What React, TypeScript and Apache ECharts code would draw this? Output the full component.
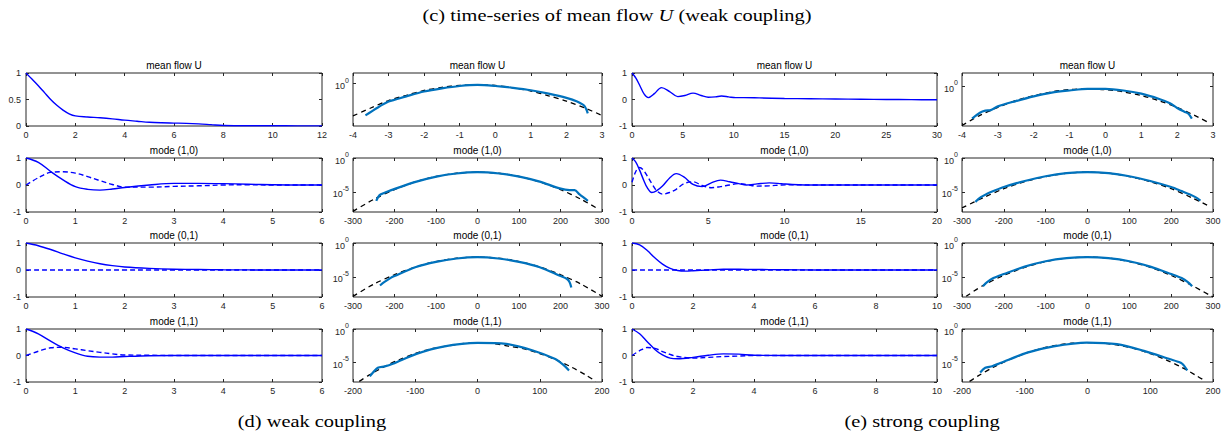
import React, { useEffect, useRef } from "react";
import * as echarts from "echarts";

// ---------- time series (left columns) ----------
const tUweak = [0, 0.25, 0.5, 0.75, 1, 1.25, 1.5, 1.75, 2, 2.5, 3, 3.5, 4, 4.5, 5, 5.5, 6, 6.5, 7, 7.5, 8, 9, 10, 11, 12];
const uWeak = [1, 0.88, 0.76, 0.63, 0.5, 0.39, 0.3, 0.23, 0.19, 0.17, 0.155, 0.135, 0.11, 0.09, 0.07, 0.06, 0.055, 0.05, 0.04, 0.025, 0.01, 0.005, 0.005, 0.003, 0.002];

const tUstrong = [0, 0.4, 0.8, 1.2, 1.6, 2.2, 2.9, 3.7, 4.5, 5.2, 6, 6.8, 7.5, 8.2, 8.8, 9.5, 10.2, 11, 12.5, 15, 17.5, 20, 22.5, 25, 27.5, 30];
const uStrong = [1, 0.8, 0.5, 0.2, 0.07, 0.22, 0.45, 0.3, 0.11, 0.15, 0.24, 0.15, 0.085, 0.1, 0.13, 0.1, 0.07, 0.07, 0.06, 0.04, 0.03, 0.02, 0.01, 0.0, -0.005, -0.01];

const t10weak = [0, 0.25, 0.5, 0.75, 1, 1.25, 1.5, 1.75, 2, 2.5, 3, 3.5, 4, 4.5, 5, 5.5, 6];
const m10weakSolid = [1, 0.84, 0.5, 0.19, -0.06, -0.16, -0.19, -0.15, -0.09, 0.0, 0.06, 0.06, 0.05, 0.03, 0.01, 0.0, 0.0];
const m10weakDash = [0, 0.27, 0.47, 0.49, 0.44, 0.31, 0.16, 0.02, -0.08, -0.08, -0.05, -0.03, 0.0, 0.01, 0.0, 0.0, 0.0];

const t10strong = [0, 0.25, 0.5, 0.75, 1, 1.3, 1.6, 2, 2.5, 2.9, 3.4, 4, 4.6, 5.2, 5.8, 6.4, 7, 7.5, 8.2, 9, 9.8, 10.5, 12, 14, 16, 18, 20];
const m10strongSolid = [1, 0.85, 0.55, 0.2, -0.1, -0.28, -0.22, -0.04, 0.28, 0.42, 0.3, 0.02, -0.06, 0.08, 0.18, 0.12, 0.05, 0.0, 0.04, 0.08, 0.05, 0.02, 0.0, 0.0, 0.0, 0.0, 0.0];
const m10strongDash = [0.1, 0.5, 0.65, 0.55, 0.33, 0.05, -0.2, -0.34, -0.27, -0.16, 0.05, 0.12, -0.02, -0.1, -0.06, 0.0, 0.05, 0.02, -0.04, -0.03, 0.0, 0.01, 0, 0, 0, 0, 0];

const t01weak = [0, 0.25, 0.5, 0.75, 1, 1.25, 1.5, 1.75, 2, 2.5, 3, 3.5, 4, 5, 6];
const m01weakSolid = [1, 0.9, 0.76, 0.6, 0.45, 0.33, 0.23, 0.16, 0.11, 0.06, 0.03, 0.02, 0.01, 0.0, 0.0];
const m01weakDash = [0, 0, 0, 0, 0, 0, 0, 0, 0, 0, 0, 0, 0, 0, 0];

const t01strong = [0, 0.25, 0.5, 0.75, 1, 1.25, 1.5, 1.75, 2, 2.5, 3, 3.5, 4, 5, 6, 7, 8, 9, 10];
const m01strongSolid = [1, 0.93, 0.72, 0.45, 0.22, 0.06, -0.02, -0.04, -0.03, 0.0, 0.03, 0.03, 0.02, 0.01, 0, 0, 0, 0, 0];
const m01strongDash = [0, 0, 0, 0, 0, 0, 0, 0, 0, 0, 0, 0, 0, 0, 0, 0, 0, 0, 0];

const t11weak = [0, 0.25, 0.5, 0.75, 1, 1.25, 1.5, 1.75, 2, 2.5, 3, 3.5, 4, 5, 6];
const m11weakSolid = [1, 0.82, 0.54, 0.29, 0.1, -0.03, -0.06, -0.06, -0.04, -0.01, 0, 0, 0, 0, 0];
const m11weakDash = [0, 0.16, 0.29, 0.31, 0.25, 0.18, 0.12, 0.06, 0.02, 0.01, 0, 0, 0, 0, 0];

const t11strong = [0, 0.25, 0.5, 0.75, 1, 1.25, 1.5, 2, 2.5, 3, 3.5, 4, 5, 6, 7, 8, 9, 10];
const m11strongSolid = [1, 0.82, 0.52, 0.23, 0.02, -0.1, -0.12, -0.07, 0.01, 0.06, 0.05, 0.01, 0, 0, 0, 0, 0, 0];
const m11strongDash = [0, 0.18, 0.3, 0.27, 0.15, 0.04, -0.04, -0.1, -0.07, -0.04, -0.02, 0, 0, 0, 0, 0, 0, 0];

// ---------- PDFs on log scale: values given as decimal exponents ----------
const pUwX = [-3.65, -3.3, -3.0, -2.8, -2.5, -2, -1.5, -1, -0.5, 0, 0.5, 1, 1.5, 2, 2.3, 2.5, 2.6];
const pUwE = [-0.6, -0.45, -0.34, -0.3, -0.24, -0.15, -0.09, -0.045, -0.025, -0.045, -0.08, -0.125, -0.19, -0.27, -0.34, -0.42, -0.56];
const gUwX = [-4, -3.5, -3, -2.5, -2, -1.5, -1, -0.5, 0, 0.5, 1, 1.5, 2, 2.5, 3];
const gUwE = [-0.61, -0.46, -0.32, -0.22, -0.13, -0.07, -0.035, -0.025, -0.035, -0.08, -0.14, -0.23, -0.33, -0.455, -0.6];

const pUsX = [-3.72, -3.5, -3.35, -3.2, -3, -2.5, -2, -1.5, -1, -0.5, 0, 0.5, 1, 1.5, 1.8, 2.0, 2.2, 2.3, 2.41];
const pUsE = [-0.61, -0.5, -0.46, -0.45, -0.38, -0.28, -0.19, -0.12, -0.08, -0.05, -0.05, -0.08, -0.14, -0.24, -0.32, -0.41, -0.48, -0.51, -0.61];
const gUsX = [-4, -3.5, -3, -2.5, -2, -1.5, -1, -0.5, 0, 0.5, 1, 1.5, 2, 2.5, 2.83];
const gUsE = [-0.74, -0.55, -0.4, -0.27, -0.18, -0.106, -0.064, -0.05, -0.064, -0.106, -0.176, -0.274, -0.4, -0.554, -0.67];

const p10wX = [-244, -236, -224, -196, -147, -99, -51, 0, 53, 101, 150, 198, 222, 234, 246, 266];
const p10wE = [-6.35, -5.5, -5.15, -4.5, -3.5, -2.75, -2.3, -2.1, -2.3, -2.75, -3.5, -4.5, -4.75, -4.75, -5.4, -6.35];
const g10wX = [-300, -250, -200, -150, -100, -50, 0, 50, 100, 150, 200, 250, 290];
const g10wE = [-7.9, -6.13, -4.68, -3.55, -2.74, -2.26, -2.1, -2.26, -2.74, -3.55, -4.68, -6.13, -7.52];

const p10sX = [-268, -255, -240, -225, -200, -150, -100, -50, 0, 50, 100, 150, 200, 225, 245, 258, 270];
const p10sE = [-6.5, -5.8, -5.3, -4.9, -4.3, -3.4, -2.7, -2.25, -2.1, -2.25, -2.7, -3.4, -4.3, -4.9, -5.4, -5.8, -6.3];
const g10sX = [-300, -250, -200, -150, -100, -50, 0, 50, 100, 150, 200, 250, 290];
const g10sE = [-7.4, -5.9, -4.55, -3.5, -2.75, -2.25, -2.1, -2.25, -2.75, -3.5, -4.55, -5.9, -7.1];

const p01wX = [-235, -225, -210, -200, -150, -100, -50, 0, 50, 100, 150, 200, 215, 222, 226];
const p01wE = [-6.3, -5.8, -5.2, -4.9, -3.6, -2.8, -2.3, -2.1, -2.3, -2.8, -3.6, -4.9, -5.3, -5.8, -6.6];
const g01wX = [-300, -250, -200, -150, -100, -50, 0, 50, 100, 150, 200, 250, 300];
const g01wE = [-7.9, -6.1, -4.7, -3.55, -2.75, -2.25, -2.1, -2.25, -2.75, -3.55, -4.7, -6.1, -7.9];

const p01sX = [-250, -240, -225, -200, -150, -100, -50, 0, 50, 100, 150, 200, 225, 240, 250];
const p01sE = [-6.4, -5.8, -5.2, -4.6, -3.5, -2.7, -2.25, -2.1, -2.25, -2.7, -3.5, -4.6, -5.2, -5.8, -6.4];
const g01sX = [-290, -250, -200, -150, -100, -50, 0, 50, 100, 150, 200, 250, 300];
const g01sE = [-7.9, -6.3, -4.8, -3.6, -2.75, -2.25, -2.1, -2.25, -2.75, -3.6, -4.8, -6.3, -8.0];

const p11wX = [-173, -160, -149, -136, -98, -55, 0, 46, 89, 124, 137, 147];
const p11wE = [-7.15, -5.85, -5.65, -5.25, -3.75, -2.65, -2.1, -2.25, -3.25, -4.5, -5.35, -6.25];
const g11wX = [-190, -175, -150, -125, -100, -75, -50, -25, 0, 25, 50, 75, 100, 125, 150, 175, 190];
const g11wE = [-7.9, -7.0, -5.7, -4.6, -3.7, -3.0, -2.6, -2.2, -2.1, -2.2, -2.6, -3.0, -3.7, -4.6, -5.7, -7.0, -7.9];

const p11sX = [-171, -163, -152, -139, -96, -54, -1, 47, 90, 132, 143, 151, 159];
const p11sE = [-6.57, -5.86, -5.62, -5.14, -3.57, -2.62, -2.05, -2.29, -3.3, -4.57, -4.9, -5.24, -6.24];
const g11sX = [-188, -175, -150, -125, -100, -75, -50, -25, 0, 25, 50, 75, 100, 125, 150, 175, 186];
const g11sE = [-7.9, -7.12, -5.77, -4.64, -3.71, -2.98, -2.46, -2.15, -2.05, -2.15, -2.46, -2.98, -3.71, -4.64, -5.77, -7.12, -7.75];

// ---------- texts ----------
const titlesRow = ["mean flow U", "mode (1,0)", "mode (0,1)", "mode (1,1)"];
const topCaption = "(c) time-series of mean flow {i|U} (weak coupling)";
const captionWeak = "(d) weak coupling";
const captionStrong = "(e) strong coupling";

// ---------- layout ----------
const COLS = [
  { left: 26, width: 296 },
  { left: 353, width: 249 },
  { left: 632, width: 305 },
  { left: 962, width: 251 },
];
const ROWS = [
  { top: 73, height: 53 },
  { top: 158, height: 54 },
  { top: 243, height: 54 },
  { top: 329, height: 53 },
];

const AX = "#262626";
const FONT = "'Liberation Sans', Arial, Helvetica, sans-serif";
const SERIF = "'Liberation Serif', 'Times New Roman', serif";

const zip = (xs: number[], ys: number[]) => xs.map((x, i) => [x, ys[i]]);
const zipExp = (xs: number[], es: number[]) => xs.map((x, i) => [x, Math.pow(10, es[i])]);

type TSPanel = {
  kind: "ts"; xMax: number; xInt: number; yMin: number; yMax: number; yInt: number;
  t: number[]; solid: number[]; dashed?: number[];
};
type PDFPanel = {
  kind: "pdf"; xMin: number; xMax: number; xInt: number; yMin: number; yMax: number; yTicks: number[];
  bx: number[]; be: number[]; gx: number[]; ge: number[];
};
type Panel = TSPanel | PDFPanel;

const LOG_RANGE_ROWS = { min: 1e-8, max: 1, ticks: [1e-5, 1] };

const panels: Panel[][] = [
  [
    { kind: "ts", xMax: 12, xInt: 2, yMin: 0, yMax: 1, yInt: 0.5, t: tUweak, solid: uWeak },
    { kind: "pdf", xMin: -4, xMax: 3, xInt: 1, yMin: Math.pow(10, -0.8), yMax: Math.pow(10, 0.2), yTicks: [1], bx: pUwX, be: pUwE, gx: gUwX, ge: gUwE },
    { kind: "ts", xMax: 30, xInt: 5, yMin: -1, yMax: 1, yInt: 1, t: tUstrong, solid: uStrong },
    { kind: "pdf", xMin: -4, xMax: 3, xInt: 1, yMin: Math.pow(10, -0.75), yMax: Math.pow(10, 0.25), yTicks: [1], bx: pUsX, be: pUsE, gx: gUsX, ge: gUsE },
  ],
  [
    { kind: "ts", xMax: 6, xInt: 1, yMin: -1, yMax: 1, yInt: 1, t: t10weak, solid: m10weakSolid, dashed: m10weakDash },
    { kind: "pdf", xMin: -300, xMax: 300, xInt: 100, yMin: LOG_RANGE_ROWS.min, yMax: LOG_RANGE_ROWS.max, yTicks: LOG_RANGE_ROWS.ticks, bx: p10wX, be: p10wE, gx: g10wX, ge: g10wE },
    { kind: "ts", xMax: 20, xInt: 5, yMin: -1, yMax: 1, yInt: 1, t: t10strong, solid: m10strongSolid, dashed: m10strongDash },
    { kind: "pdf", xMin: -300, xMax: 300, xInt: 100, yMin: LOG_RANGE_ROWS.min, yMax: LOG_RANGE_ROWS.max, yTicks: LOG_RANGE_ROWS.ticks, bx: p10sX, be: p10sE, gx: g10sX, ge: g10sE },
  ],
  [
    { kind: "ts", xMax: 6, xInt: 1, yMin: -1, yMax: 1, yInt: 1, t: t01weak, solid: m01weakSolid, dashed: m01weakDash },
    { kind: "pdf", xMin: -300, xMax: 300, xInt: 100, yMin: LOG_RANGE_ROWS.min, yMax: LOG_RANGE_ROWS.max, yTicks: LOG_RANGE_ROWS.ticks, bx: p01wX, be: p01wE, gx: g01wX, ge: g01wE },
    { kind: "ts", xMax: 10, xInt: 2, yMin: -1, yMax: 1, yInt: 1, t: t01strong, solid: m01strongSolid, dashed: m01strongDash },
    { kind: "pdf", xMin: -300, xMax: 300, xInt: 100, yMin: LOG_RANGE_ROWS.min, yMax: LOG_RANGE_ROWS.max, yTicks: LOG_RANGE_ROWS.ticks, bx: p01sX, be: p01sE, gx: g01sX, ge: g01sE },
  ],
  [
    { kind: "ts", xMax: 6, xInt: 1, yMin: -1, yMax: 1, yInt: 1, t: t11weak, solid: m11weakSolid, dashed: m11weakDash },
    { kind: "pdf", xMin: -200, xMax: 200, xInt: 100, yMin: LOG_RANGE_ROWS.min, yMax: LOG_RANGE_ROWS.max, yTicks: LOG_RANGE_ROWS.ticks, bx: p11wX, be: p11wE, gx: g11wX, ge: g11wE },
    { kind: "ts", xMax: 10, xInt: 2, yMin: -1, yMax: 1, yInt: 1, t: t11strong, solid: m11strongSolid, dashed: m11strongDash },
    { kind: "pdf", xMin: -200, xMax: 200, xInt: 100, yMin: LOG_RANGE_ROWS.min, yMax: LOG_RANGE_ROWS.max, yTicks: LOG_RANGE_ROWS.ticks, bx: p11sX, be: p11sE, gx: g11sX, ge: g11sE },
  ],
];

function buildOption() {
  const grid: any[] = [];
  const xAxis: any[] = [];
  const yAxis: any[] = [];
  const series: any[] = [];
  const graphic: any[] = [];

  const tick = { show: true, inside: true, length: 3, lineStyle: { color: AX, width: 1 } };
  const label = { color: AX, fontSize: 9, fontFamily: FONT };

  let gi = 0;
  ROWS.forEach((row, r) => {
    COLS.forEach((col, c) => {
      const p = panels[r][c];
      grid.push({
        left: col.left, top: row.top, width: col.width, height: row.height,
        show: true, borderColor: AX, borderWidth: 1, backgroundColor: "#fff",
        containLabel: false, outerBoundsMode: "none",
      });
      const xMin = p.kind === "ts" ? 0 : p.xMin;
      const xBase = {
        type: "value", gridIndex: gi, min: xMin, max: p.xMax, interval: p.xInt,
        axisLine: { show: false, onZero: false }, splitLine: { show: false }, axisTick: tick,
      };
      xAxis.push({ ...xBase, position: "bottom", axisLabel: { ...label, margin: 4 } });
      xAxis.push({ ...xBase, position: "top", axisLabel: { show: false } });

      if (p.kind === "ts") {
        const yBase = {
          type: "value", gridIndex: gi, min: p.yMin, max: p.yMax, interval: p.yInt,
          axisLine: { show: false, onZero: false }, splitLine: { show: false }, axisTick: tick,
        };
        yAxis.push({ ...yBase, position: "left", axisLabel: { ...label, margin: 5 } });
        yAxis.push({ ...yBase, position: "right", axisLabel: { show: false } });
        if (p.dashed) {
          series.push({
            type: "line", xAxisIndex: 2 * gi, yAxisIndex: 2 * gi, data: zip(p.t, p.dashed),
            symbol: "none", smooth: 0.35, silent: true,
            lineStyle: { color: "#0000ff", width: 1.4, type: [5, 3] },
          });
        }
        series.push({
          type: "line", xAxisIndex: 2 * gi, yAxisIndex: 2 * gi, data: zip(p.t, p.solid),
          symbol: "none", smooth: 0.35, silent: true,
          lineStyle: { color: "#0000ff", width: 1.4 },
        });
      } else {
        const yBase = {
          type: "log", logBase: 10, gridIndex: gi, min: p.yMin, max: p.yMax,
          axisLine: { show: false, onZero: false }, splitLine: { show: false },
          minorTick: { show: false },
          axisTick: { ...tick, customValues: p.yTicks },
        };
        yAxis.push({
          ...yBase, position: "left",
          axisLabel: {
            customValues: p.yTicks, margin: 4,
            formatter: (v: number) => `{b|10}{s|${Math.round(Math.log10(v))}}`,
            rich: {
              b: { fontSize: 9, fontFamily: FONT, color: AX, lineHeight: 14, verticalAlign: "bottom" },
              s: { fontSize: 7, fontFamily: FONT, color: AX, lineHeight: 9, verticalAlign: "top" },
            },
          },
        });
        yAxis.push({ ...yBase, position: "right", axisLabel: { show: false } });
        series.push({
          type: "line", xAxisIndex: 2 * gi, yAxisIndex: 2 * gi, data: zipExp(p.gx, p.ge),
          symbol: "none", smooth: 0.3, silent: true,
          lineStyle: { color: "#000", width: 1.3, type: [5, 4] },
        });
        series.push({
          type: "line", xAxisIndex: 2 * gi, yAxisIndex: 2 * gi, data: zipExp(p.bx, p.be),
          symbol: "none", smooth: 0.3, silent: true,
          lineStyle: { color: "#0072BD", width: 2.2 },
        });
      }

      graphic.push({
        type: "text", x: col.left + col.width / 2, y: row.top - 7.5, silent: true,
        style: {
          text: titlesRow[r], fill: "#000", fontSize: 10, fontFamily: FONT,
          align: "center", verticalAlign: "middle", textAlign: "center", textVerticalAlign: "middle",
        },
      });
      gi++;
    });
  });

  graphic.push({
    type: "text", x: 617, y: 15, scaleX: 1.2, silent: true,
    style: {
      text: topCaption, fill: "#000", fontSize: 17, fontFamily: SERIF,
      align: "center", verticalAlign: "middle", textAlign: "center", textVerticalAlign: "middle",
      rich: { i: { fontStyle: "italic", fontSize: 17, fontFamily: SERIF, fill: "#000" } },
    },
  });
  graphic.push({
    type: "text", x: 312, y: 421, scaleX: 1.2, silent: true,
    style: {
      text: captionWeak, fill: "#000", fontSize: 17, fontFamily: SERIF,
      align: "center", verticalAlign: "middle", textAlign: "center", textVerticalAlign: "middle",
    },
  });
  graphic.push({
    type: "text", x: 922, y: 421, scaleX: 1.2, silent: true,
    style: {
      text: captionStrong, fill: "#000", fontSize: 17, fontFamily: SERIF,
      align: "center", verticalAlign: "middle", textAlign: "center", textVerticalAlign: "middle",
    },
  });

  return {
    animation: false,
    backgroundColor: "#fff",
    grid, xAxis, yAxis, series, graphic,
  };
}

export default function App() {
  const ref = useRef<HTMLDivElement>(null);
  useEffect(() => {
    if (!ref.current) return;
    const chart = echarts.init(ref.current, null, { renderer: "svg" });
    chart.setOption(buildOption() as any);
    return () => chart.dispose();
  }, []);
  return (
    <div
      ref={ref}
      style={{ position: "fixed", left: 0, top: 0, width: 1231, height: 437, background: "#fff" }}
    />
  );
}
